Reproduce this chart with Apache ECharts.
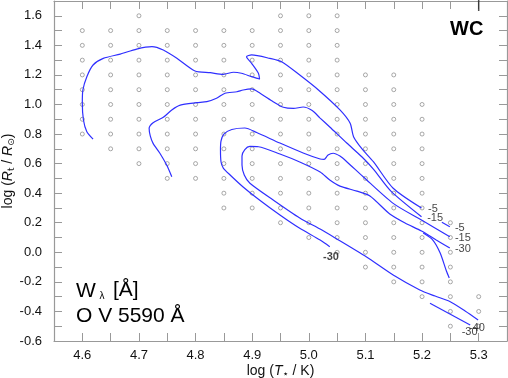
<!DOCTYPE html>
<html><head><meta charset="utf-8">
<script src="https://cdn.jsdelivr.net/npm/echarts@6/dist/echarts.min.js"></script>
<style>html,body{margin:0;padding:0;background:#fff}#c{width:508px;height:378px}</style>
</head><body><div id="c"></div>
<script>
const FONT = '"Liberation Sans", Arial, Helvetica, sans-serif';
const xTickLabels = ['4.6','4.7','4.8','4.9','5.0','5.1','5.2','5.3'];
const yTickLabels = ['-0.6','-0.4','-0.2','0.0','0.2','0.4','0.6','0.8','1.0','1.2','1.4','1.6'];

// model grid: log T* columns and the log Rt values present in each
const gridT = [4.60,4.65,4.70,4.75,4.80,4.85,4.90,4.95,5.00,5.05,5.10,5.15,5.20,5.25,5.30];
const gridLogR = [
  [0.8,0.9,1.0,1.1,1.2,1.3,1.4,1.5],
  [0.7,0.8,0.9,1.0,1.1,1.2,1.3,1.4,1.5],
  [0.6,0.7,0.8,0.9,1.0,1.1,1.2,1.3,1.4,1.5,1.6],
  [0.5,0.6,0.7,0.8,0.9,1.0,1.1,1.2,1.3,1.4,1.5],
  [0.5,0.6,0.7,0.8,0.9,1.0,1.1,1.2,1.3,1.4,1.5],
  [0.3,0.4,0.5,0.6,0.7,0.8,0.9,1.0,1.1,1.2,1.3,1.4,1.5],
  [0.3,0.4,0.5,0.6,0.7,0.8,0.9,1.0,1.1,1.2,1.3,1.4,1.5],
  [0.2,0.3,0.4,0.5,0.6,0.7,0.8,0.9,1.0,1.1,1.2,1.3,1.4,1.5,1.6],
  [0.1,0.2,0.3,0.4,0.5,0.6,0.7,0.8,0.9,1.0,1.1,1.2,1.3,1.4,1.5,1.6],
  [0.0,0.1,0.2,0.3,0.4,0.5,0.6,0.7,0.8,0.9,1.0,1.1,1.2,1.3,1.4,1.5,1.6],
  [-0.1,0.0,0.1,0.2,0.3,0.4,0.5,0.6,0.7,0.8,0.9,1.0,1.1,1.2],
  [-0.2,-0.1,0.0,0.1,0.2,0.3,0.4,0.5,0.6,0.7,0.8,0.9,1.0,1.1,1.2],
  [-0.3,-0.2,-0.1,0.0,0.1,0.2,0.3,0.4,0.5,0.6,0.7,0.8,0.9,1.0],
  [-0.5,-0.4,-0.3,-0.2,-0.1,0.0,0.1,0.2],
  [-0.5,-0.4,-0.3]
];

// contour lines [log T*, log Rt]
const contourA = [[4.619,0.766],[4.608,0.816],[4.602,0.895],[4.600,1.008],[4.601,1.098],[4.608,1.188],[4.619,1.267],[4.637,1.312],[4.667,1.341],[4.696,1.375],[4.723,1.391],[4.743,1.368],[4.767,1.312],[4.799,1.226],[4.826,1.215],[4.849,1.204],[4.867,1.218],[4.881,1.211],[4.899,1.188],[4.913,1.172],[4.911,1.211],[4.899,1.278],[4.890,1.323],[4.899,1.335],[4.931,1.312],[4.952,1.289],[4.984,1.199],[5.017,1.098],[5.055,0.963],[5.073,0.873],[5.079,0.782],[5.094,0.699],[5.114,0.613],[5.149,0.433],[5.199,0.299]];
const contourB = [[4.758,0.511],[4.749,0.590],[4.737,0.670],[4.725,0.737],[4.720,0.787],[4.718,0.839],[4.725,0.877],[4.743,0.913],[4.758,0.963],[4.773,0.996],[4.802,1.012],[4.820,1.019],[4.837,1.042],[4.852,1.076],[4.873,1.086],[4.884,1.098],[4.899,1.105],[4.914,1.076],[4.937,1.019],[4.955,0.981],[4.973,0.973],[4.990,0.983],[5.006,0.959],[5.020,0.908],[5.037,0.848],[5.067,0.739],[5.094,0.645],[5.114,0.563],[5.145,0.414],[5.199,0.241]];
const contourC = [[5.037,0.038],[5.020,0.083],[4.984,0.162],[4.949,0.252],[4.914,0.350],[4.884,0.442],[4.861,0.523],[4.849,0.570],[4.845,0.611],[4.844,0.692],[4.845,0.753],[4.850,0.800],[4.864,0.831],[4.887,0.841],[4.908,0.810],[4.949,0.739],[4.990,0.672],[5.020,0.631],[5.027,0.628],[5.034,0.658],[5.043,0.670],[5.055,0.651],[5.067,0.613],[5.096,0.511],[5.149,0.331],[5.199,0.218],[5.249,0.105]];
const contourD = [[5.299,-0.458],[5.276,-0.397],[5.249,-0.333],[5.223,-0.296],[5.196,-0.255],[5.149,-0.154],[5.102,-0.032],[5.043,0.105],[5.020,0.157],[4.984,0.232],[4.937,0.354],[4.896,0.467],[4.886,0.523],[4.882,0.590],[4.882,0.651],[4.887,0.695],[4.896,0.716],[4.911,0.714],[4.949,0.665],[4.984,0.611],[5.020,0.543],[5.037,0.489],[5.055,0.448],[5.085,0.414],[5.108,0.381],[5.143,0.259],[5.170,0.198],[5.199,0.144],[5.225,0.083],[5.249,0.029]];
const contourE = [[5.202,0.130],[5.219,0.083],[5.232,-0.005],[5.243,-0.127],[5.248,-0.174]];
const contourF = [[5.235,0.203],[5.249,0.173]];
const contourG = [[5.214,-0.345],[5.285,-0.492]];

// contour labels
const labelText = ['-5','-15','-5','-15','-30','-40','-30','-30'];
const labelT    = [5.2105,5.209,5.258,5.258,5.258,5.283,5.270,5.025];
const labelR    = [0.296,0.235,0.164,0.096,0.022,-0.512,-0.540,-0.032];
const labelBold = [false,false,false,false,false,false,false,true];

const gridPts = [];
gridT.forEach((t,i)=>gridLogR[i].forEach(r=>gridPts.push([t,r])));

const lineColor = '#2f2fff';
function contour(d){
  return {type:'line', data:d, showSymbol:false, symbol:'none', smooth:0.25, clip:false,
    lineStyle:{color:lineColor, width:1.2}, z:3, silent:true};
}

const axisLineStyle = {color:'#999', width:1.2};
const tickStyle = {show:true, inside:true, length:8, lineStyle:{color:'#999', width:1}};

const chart = echarts.init(document.getElementById('c'), null, {renderer:'canvas'});
chart.setOption({
  animation:false,
  backgroundColor:'#fff',
  grid:{left:54, right:1, top:1, bottom:37, containLabel:false, outerBoundsMode:'none'},
  xAxis:[{
    type:'value', position:'bottom', min:4.55, max:5.35, interval:0.05,
    axisLine:{show:true, onZero:false, lineStyle:axisLineStyle},
    axisTick:tickStyle, splitLine:{show:false},
    axisLabel:{margin:8, fontSize:13, color:'#111', fontFamily:FONT, hideOverlap:false,
      formatter:v=>{const k=Math.round(v*100); if(k%10!==0) return ''; const s=(k/100).toFixed(1); return xTickLabels.includes(s)?s:'';}},
    name:'log ({i|T}{s|⋆} / K)', nameLocation:'middle', nameGap:22, nameMoveOverlap:false,
    nameTextStyle:{fontSize:14, color:'#111', fontFamily:FONT, lineHeight:16,
      rich:{i:{fontStyle:'italic', fontSize:14, lineHeight:16, fontFamily:FONT, color:'#111'},
            s:{fontSize:10, lineHeight:10, verticalAlign:'bottom', fontFamily:'"DejaVu Sans", sans-serif', color:'#111'}}}
  },{
    type:'value', position:'top', min:4.55, max:5.35, interval:0.05,
    axisLine:{show:true, onZero:false, lineStyle:axisLineStyle},
    axisTick:tickStyle, axisLabel:{show:false}, splitLine:{show:false}
  }],
  yAxis:[{
    type:'value', position:'left', min:-0.6, max:1.7, interval:0.1,
    axisLine:{show:true, onZero:false, lineStyle:axisLineStyle},
    axisTick:tickStyle, splitLine:{show:false},
    axisLabel:{margin:12, fontSize:13, color:'#111', fontFamily:FONT, hideOverlap:false,
      formatter:v=>{const s=(Math.round(v*10)/10).toFixed(1); const t=(s==='-0.0')?'0.0':s; return yTickLabels.includes(t)?t:'';}},
    name:'log ({i|R}{s|t} / {i|R}{s|⊙})', nameLocation:'middle', nameGap:38, nameRotate:90, nameMoveOverlap:false,
    nameTextStyle:{fontSize:14, color:'#111', fontFamily:FONT, lineHeight:16,
      rich:{i:{fontStyle:'italic', fontSize:14, lineHeight:16, fontFamily:FONT, color:'#111'},
            s:{fontSize:9, lineHeight:9, verticalAlign:'bottom', fontFamily:'"DejaVu Sans", sans-serif', color:'#111'}}}
  },{
    type:'value', position:'right', min:-0.6, max:1.7, interval:0.1,
    axisLine:{show:true, onZero:false, lineStyle:axisLineStyle},
    axisTick:tickStyle, axisLabel:{show:false}, splitLine:{show:false}
  }],
  series:[
    {type:'scatter', data:gridPts, symbol:'circle', symbolSize:4,
      itemStyle:{color:'#fff', borderColor:'#777', borderWidth:0.8}, z:2, silent:true},
    contour(contourA), contour(contourB), contour(contourC), contour(contourD),
    contour(contourE), contour(contourF), contour(contourG),
    {type:'scatter', data:labelT.map((t,i)=>({value:[t,labelR[i]], name:labelText[i],
        label:{fontWeight:labelBold[i]?'bold':'normal'}})),
      symbolSize:0, z:5, silent:true,
      label:{show:true, position:'right', distance:0, formatter:p=>p.name,
        fontSize:11, color:'#111', fontFamily:FONT}},
    {type:'scatter', data:[[5.3,1.7]], symbol:'rect', symbolSize:[1.5,20],
      itemStyle:{color:'#222'}, z:6, silent:true, clip:false}
  ],
  graphic:[
    {type:'text', x:450, y:29, style:{text:'WC', font:'bold 20px '+FONT, fill:'#000', align:'left', verticalAlign:'middle'}},
    {type:'text', x:76, y:291, style:{text:'W', font:'21px '+FONT, fill:'#000', align:'left', verticalAlign:'middle'}},
    {type:'text', x:99.5, y:296.5, style:{text:'λ', font:'10px '+FONT, fill:'#000', align:'left', verticalAlign:'middle'}},
    {type:'text', x:113, y:290, style:{text:'[Å]', font:'21px '+FONT, fill:'#000', align:'left', verticalAlign:'middle'}},
    {type:'text', x:76, y:316, style:{text:'O V 5590 Å', font:'21px '+FONT, fill:'#000', align:'left', verticalAlign:'middle'}}
  ]
});
</script></body></html>
